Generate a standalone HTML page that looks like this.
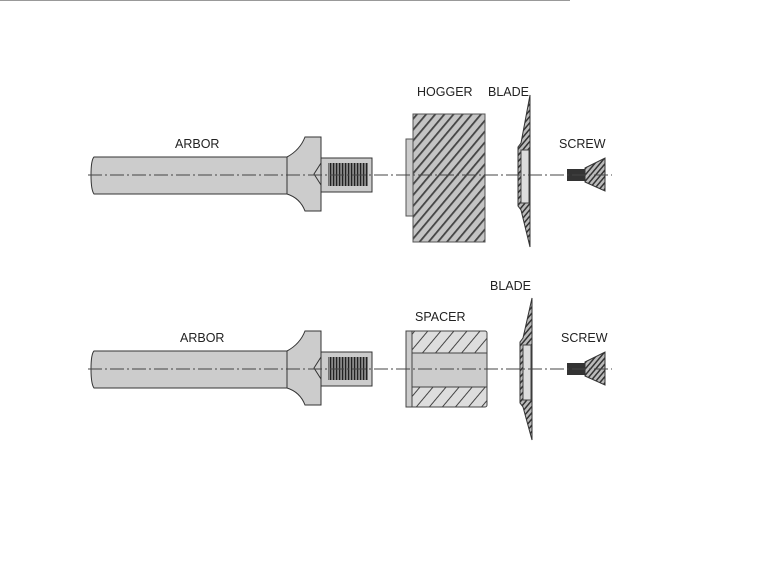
<!DOCTYPE html>
<html><head><style>body{margin:0;background:#fff}svg{display:block}text{font-family:"Liberation Sans",sans-serif;font-size:12.5px;fill:#222}</style></head><body>
<svg width="764" height="568" viewBox="0 0 764 568">
<defs>
<pattern id="h1" width="7" height="7" patternUnits="userSpaceOnUse" patternTransform="rotate(40)"><rect width="7" height="7" fill="#c4c4c4"/><rect width="1.8" height="7" fill="#444"/></pattern>
<pattern id="h2" width="10" height="10" patternUnits="userSpaceOnUse" patternTransform="rotate(40)"><rect width="10" height="10" fill="#ddd"/><rect width="1" height="10" fill="#444"/></pattern>
<pattern id="h3" width="4" height="4" patternUnits="userSpaceOnUse" patternTransform="rotate(40)"><rect width="4" height="4" fill="#bbb"/><rect width="1.5" height="4" fill="#333"/></pattern>
<pattern id="th" width="3" height="10" patternUnits="userSpaceOnUse"><rect width="3" height="10" fill="#888"/><rect width="1.2" height="10" fill="#222"/></pattern>
<g id="arbor">
<path d="M94,157 H287 Q300,150 305,137 H321 V211 H305 Q300,198 287,194 H94 Q91,190 91,175 Q91,160 94,157 Z" fill="#ccc" stroke="#333" stroke-width="1"/>
<line x1="287" y1="157" x2="287" y2="194" stroke="#333"/>
<rect x="321" y="158" width="51" height="34" fill="#ccc" stroke="#333"/>
<rect x="328" y="163" width="40" height="23" fill="url(#th)"/>
<path d="M321,163 L314,174 L321,185" fill="none" stroke="#333"/>
</g>
<g id="screw">
<rect x="567" y="169" width="18" height="12" fill="#333"/>
<path d="M585,168 L605,158 V191 L585,182 Z" fill="url(#h3)" stroke="#333"/>
</g>
</defs>
<line x1="0" y1="0.5" x2="570" y2="0.5" stroke="#999"/>
<use href="#arbor"/>
<rect x="406" y="139" width="8" height="77" fill="#ccc" stroke="#555"/>
<rect x="413" y="114" width="72" height="128" fill="url(#h1)" stroke="#555"/>
<path d="M530,95 L521,143 L518,147 V206 L521,210 L530,247 Z" fill="url(#h3)" stroke="#333"/>
<rect x="521" y="150" width="8" height="53" fill="#ddd" stroke="#444"/>
<use href="#screw"/>
<line x1="88" y1="175" x2="612" y2="175" stroke="#444" stroke-dasharray="14,3,2,3"/>
<text x="175" y="148">ARBOR</text><text x="417" y="96">HOGGER</text><text x="488" y="96">BLADE</text><text x="559" y="148">SCREW</text>

<g transform="translate(0,194)"><use href="#arbor"/><use href="#screw"/></g>
<rect x="406" y="331" width="81" height="76" fill="url(#h2)" stroke="#444" rx="2"/>
<rect x="406" y="331" width="6" height="76" fill="#ccc" stroke="#444"/>
<rect x="412" y="353" width="75" height="34" fill="#ccc" stroke="#444"/>
<path d="M532,298 L523,338 L520,342 V403 L523,407 L532,440 Z" fill="url(#h3)" stroke="#333"/>
<rect x="523" y="345" width="8" height="55" fill="#ddd" stroke="#444"/>
<line x1="88" y1="369" x2="612" y2="369" stroke="#444" stroke-dasharray="14,3,2,3"/>
<text x="180" y="342">ARBOR</text><text x="415" y="321">SPACER</text><text x="490" y="290">BLADE</text><text x="561" y="342">SCREW</text>
</svg>
</body></html>
